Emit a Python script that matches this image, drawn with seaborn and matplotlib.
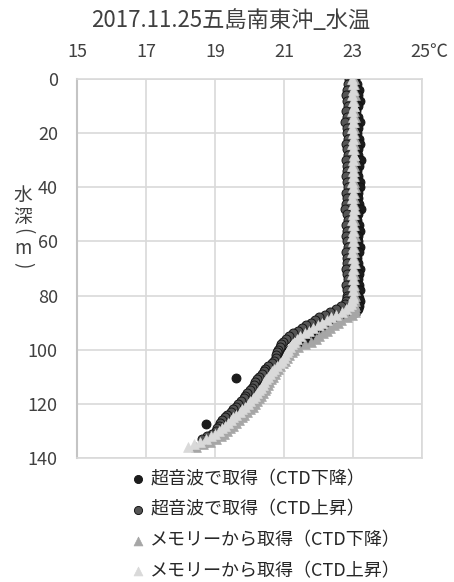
import numpy as np
import matplotlib
matplotlib.use("Agg")
import matplotlib.pyplot as plt
import matplotlib.transforms as mtransforms
import seaborn as sns

# ---------------- data ----------------
title = "2017.11.25五島南東沖_水温"
series_labels = ["超音波で取得（CTD下降）", "超音波で取得（CTD上昇）",
                 "メモリーから取得（CTD下降）", "メモリーから取得（CTD上昇）"]
x_ticks = [15, 17, 19, 21, 23, 25]
x_tick_labels = ["15", "17", "19", "21", "23", "25℃"]
y_ticks = [0, 20, 40, 60, 80, 100, 120, 140]
y_label_chars = ["水", "深", "(", "m", ")"]

# depth (m): every 2 m in the mixed layer, every 1 m below 80 m
depth = list(range(0, 81, 2)) + list(range(81, 137))

nan = np.nan

us_down_temp = [23.05, 23.12, 23.18, 23.15, 23.20, 23.14, 23.10, 23.16, 23.22, 23.15,
                23.12, 23.18, 23.20, 23.14, 23.16, 23.24, 23.18, 23.12, 23.15, 23.20,
                23.22, 23.16, 23.14, 23.18, 23.23, 23.15, 23.12, 23.17, 23.20, 23.14,
                23.16, 23.22, 23.18, 23.13, 23.15, 23.20, 23.17, 23.14, 23.18, 23.20,
                23.16,
                23.18, 23.20, 23.16, 23.18, 23.14, 23.10, 22.88, 22.70, 22.55, 22.42,
                22.31, 22.20, 22.09, 21.98, 21.87, 21.76, 21.62, 21.45, 21.28, 21.16,
                21.08, 21.00, 20.94, 20.88, 20.82, 20.76, 20.70, 20.64, 20.59, 20.54,
                20.49, 20.44, 20.39, 20.34, 20.30, 20.25, 20.19, 20.13, 20.08, 20.02,
                19.95, 19.87, 19.79, 19.71, 19.63, 19.55, 19.46, 19.38, 19.30, 19.21,
                19.12, 19.02, 18.90, 18.76, nan, nan]
us_down_extra_depth = [110.3, 127.4]
us_down_extra_temp = [19.62, 18.75]

us_up_temp = [22.90, 22.85, 22.82, 22.80, 22.84, 22.86, 22.80, 22.83, 22.78, 22.84,
              22.82, 22.86, 22.80, 22.83, 22.85, 22.80, 22.82, 22.84, 22.79, 22.83,
              22.86, 22.81, 22.84, 22.80, 22.78, 22.83, 22.85, 22.81, 22.84, 22.80,
              22.83, 22.86, 22.80, 22.82, 22.84, 22.79, 22.83, 22.85, 22.80, 22.84,
              22.82,
              22.84, 22.80, 22.76, 22.66, 22.50, 22.34, 22.18, 22.02, 21.90, 21.78,
              21.65, 21.52, 21.40, 21.27, 21.15, 21.05, 20.98, 20.92, 20.88, 20.84,
              20.80, 20.78, 20.76, 20.72, 20.64, 20.55, 20.46, 20.42, 20.35, 20.28,
              20.22, 20.17, 20.12, 20.06, 20.00, 19.94, 19.88, 19.83, 19.76, 19.68,
              19.60, 19.53, 19.45, 19.36, 19.28, 19.21, 19.15, 19.10, 19.06, 19.02,
              18.92, 18.78, 18.62, nan, nan, nan]

mem_down_temp = [23.02, 23.04, 23.03, 23.05, 23.02, 23.04, 23.03, 23.05, 23.04, 23.02,
                 23.03, 23.05, 23.04, 23.02, 23.03, 23.05, 23.04, 23.03, 23.02, 23.04,
                 23.05, 23.03, 23.02, 23.04, 23.05, 23.03, 23.04, 23.02, 23.03, 23.05,
                 23.04, 23.03, 23.02, 23.04, 23.05, 23.03, 23.04, 23.02, 23.03, 23.05,
                 23.05,
                 23.04, 23.05, 23.04, 23.06, 23.05, 23.05, 22.98, 22.82, 22.67, 22.56,
                 22.45, 22.34, 22.24, 22.13, 22.02, 21.92, 21.78, 21.60, 21.42, 21.30,
                 21.22, 21.14, 21.08, 21.02, 20.96, 20.90, 20.84, 20.78, 20.73, 20.68,
                 20.63, 20.58, 20.53, 20.48, 20.44, 20.39, 20.33, 20.27, 20.22, 20.16,
                 20.09, 20.01, 19.93, 19.85, 19.77, 19.69, 19.60, 19.52, 19.44, 19.35,
                 19.26, 19.16, 19.02, 18.86, 18.66, 18.45]

mem_up_temp = [22.98, 23.00, 23.01, 22.99, 23.00, 23.02, 22.99, 23.00, 23.01, 22.98,
               23.00, 23.01, 22.99, 23.00, 23.02, 23.00, 22.99, 23.01, 23.00, 22.98,
               23.00, 23.01, 22.99, 23.00, 23.02, 23.00, 22.99, 23.01, 23.00, 22.98,
               23.00, 23.01, 22.99, 23.00, 23.02, 23.00, 22.99, 23.01, 23.00, 23.00,
               23.00,
               23.00, 22.99, 22.96, 22.90, 22.80, 22.68, 22.52, 22.38, 22.24, 22.10,
               21.98, 21.85, 21.72, 21.60, 21.48, 21.38, 21.30, 21.24, 21.18, 21.13,
               21.08, 21.04, 21.00, 20.95, 20.88, 20.80, 20.72, 20.66, 20.60, 20.54,
               20.48, 20.43, 20.38, 20.33, 20.27, 20.21, 20.15, 20.09, 20.02, 19.95,
               19.87, 19.79, 19.71, 19.62, 19.53, 19.45, 19.37, 19.29, 19.21, 19.12,
               19.01, 18.88, 18.73, 18.56, 18.38, 18.22]

# ---------------- style ----------------
sns.set_style("white")
FONT = ["Noto Sans CJK JP", "DejaVu Sans"]
plt.rcParams["font.family"] = FONT

W, H = 454, 582
fig = plt.figure(figsize=(W / 100, H / 100), dpi=100)
ax = fig.add_axes([77.3 / W, 1 - 458 / H, (421.7 - 77.3) / W, (458 - 79) / H])

grid_c = "#d9d9d9"
S = 42

sns.scatterplot(x=us_down_temp + us_down_extra_temp, y=depth + us_down_extra_depth,
                marker="o", s=S, color="#1c1c1c", edgecolor="#111111", linewidth=0.6,
                ax=ax, legend=False, zorder=3)
sns.scatterplot(x=us_up_temp, y=depth, marker="o", s=S, color="#555555",
                edgecolor="#161616", linewidth=0.7, ax=ax, legend=False, zorder=4)
sns.scatterplot(x=mem_down_temp, y=depth, marker="^", s=S + 8, color="#a6a6a6",
                edgecolor="#a6a6a6", linewidth=0.5, ax=ax, legend=False, zorder=5)
sns.scatterplot(x=mem_up_temp, y=depth, marker="^", s=S + 8, color="#d9d9d9",
                edgecolor="#d9d9d9", linewidth=0.5, ax=ax, legend=False, zorder=6)

ax.set_xlim(15, 25)
ax.set_ylim(140, 0)
ax.set_xticks(x_ticks)
ax.set_xticklabels(x_tick_labels)
ax.set_yticks(y_ticks)
ax.xaxis.tick_top()
ax.tick_params(axis="x", length=0, pad=13, labelsize=13, colors="#404040")
ax.tick_params(axis="y", length=0, pad=14, labelsize=13, colors="#404040")
ax.grid(True, color=grid_c, linewidth=1.2)
ax.set_axisbelow(True)
for side in ["top", "bottom", "right"]:
    ax.spines[side].set_color(grid_c)
    ax.spines[side].set_linewidth(1.2)
ax.spines["left"].set_color("#c4c4c4")
ax.spines["left"].set_linewidth(1.5)
ax.set_xlabel("")
ax.set_ylabel("")

# shift the "25℃" label so that "25" sits on its tick
lbl = ax.get_xticklabels()[-1]
lbl.set_transform(lbl.get_transform() + mtransforms.ScaledTranslation(8 / 100, 0, fig.dpi_scale_trans))

fig.text(231 / W, 1 - 21 / H, title, ha="center", va="center", fontsize=16, color="#404040")

# vertical y-axis title (stacked; brackets turned as in vertical writing)
ylab_y = [195.5, 217.5, 231.5, 248, 265]
ylab_rot = [0, 0, -90, 0, -90]
for ch, yy, rot in zip(y_label_chars, ylab_y, ylab_rot):
    fig.text(23 / W, 1 - yy / H, ch, ha="center", va="center", rotation=rot,
             rotation_mode="anchor", fontsize=13.5, color="#404040")

handles = ax.collections[:4]
leg = fig.legend(handles, series_labels, loc="upper left",
                 bbox_to_anchor=(130.3 / W, 1 - 470 / H), frameon=False,
                 fontsize=13, labelspacing=0.7, handletextpad=0.3,
                 handlelength=0.8, borderpad=0, borderaxespad=0, markerscale=0.9)
for t in leg.get_texts():
    t.set_color("#262626")

fig.savefig("out.png", dpi=100)
